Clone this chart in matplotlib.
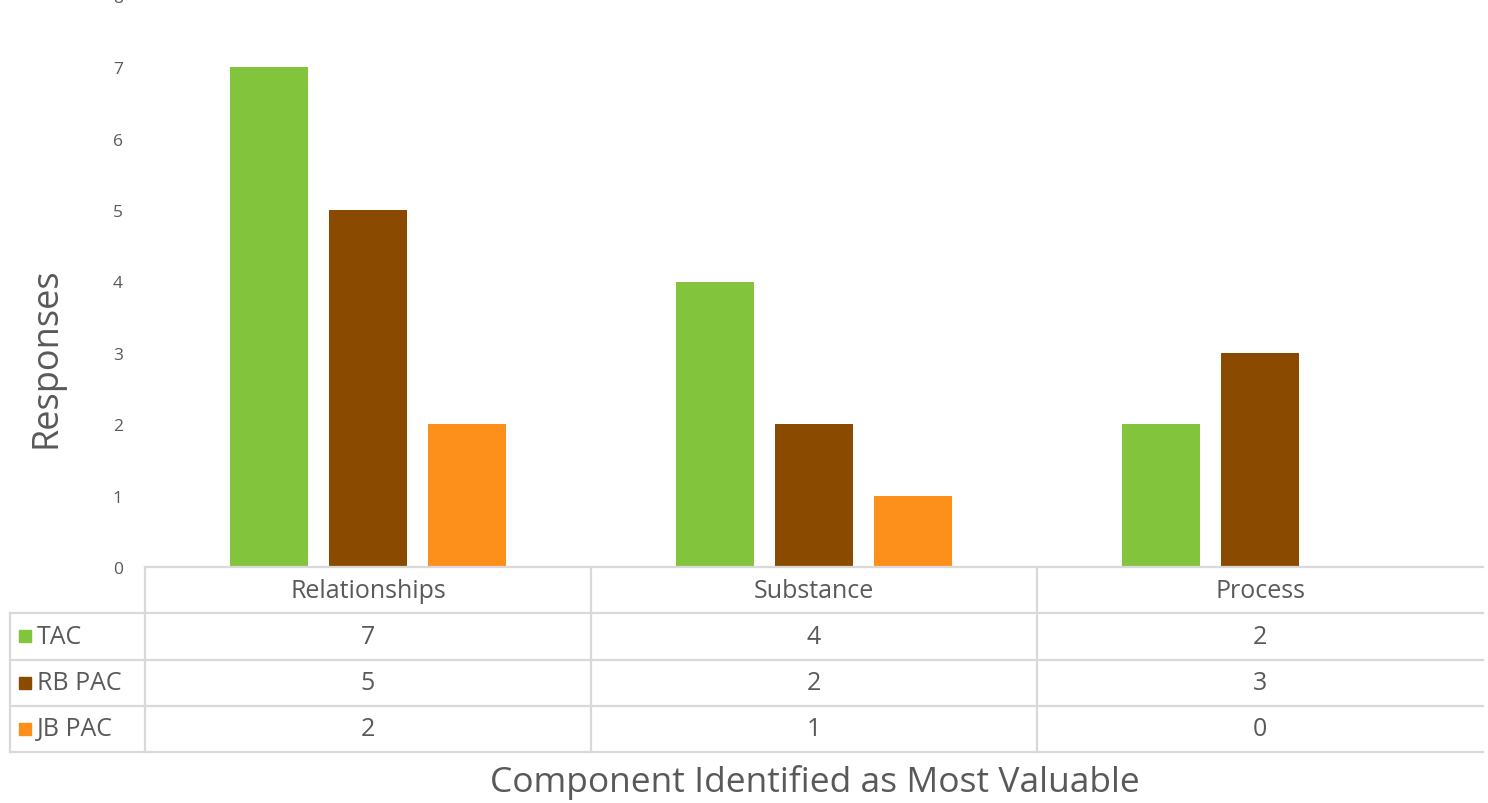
import matplotlib
matplotlib.use('Agg')
from matplotlib import pyplot as plt
from matplotlib.patches import Rectangle
import numpy as np

categories = ['Relationships', 'Substance', 'Process']
series_names = ['TAC', 'RB PAC', 'JB PAC']
tac = [7, 4, 2]
rb_pac = [5, 2, 3]
jb_pac = [2, 1, 0]
y_ticks = [0, 1, 2, 3, 4, 5, 6, 7, 8]

colors = ['#82c53d', '#8a4b00', '#fd8f1b']
text_color = '#595959'
grid_color = '#d9d9d9'

plt.rcParams['font.family'] = ['Open Sans', 'DejaVu Sans']

W, H = 1488, 804
fig = plt.figure(figsize=(W / 100, H / 100), dpi=100)


def px_box(left, top, right, bottom):
    return [left / W, 1 - bottom / H, (right - left) / W, (bottom - top) / H]


ax = fig.add_axes(px_box(145, -3, 1483, 568))
series = [tac, rb_pac, jb_pac]
x = np.arange(len(categories))
width = 0.175
step = 0.222
for i, (vals, col) in enumerate(zip(series, colors)):
    ax.bar(x + (i - 1) * step, vals, width, color=col, zorder=2)

ax.set_xlim(-0.5, 2.5)
ax.set_ylim(0, 8)
ax.set_yticks(y_ticks)
ax.set_xticks([])
for s in ax.spines.values():
    s.set_visible(False)
ax.tick_params(axis='y', length=0, pad=16, labelsize=12.5, labelcolor=text_color)

fig.text(46 / W, 1 - 358 / H, 'Responses', rotation=90, ha='center',
         va='center', fontsize=26, color=text_color)

# data table below the bars
tab = fig.add_axes(px_box(145, 568, 1483, 753))
tab.set_xlim(-0.5, 2.5)
tab.set_ylim(4, 0)
tab.axis('off')
lw = 1.6
px = 1 / 446.0  # one pixel in x data units
left_edge = -0.5 - 135 * px
kw = dict(color=grid_color, lw=lw, clip_on=False)
tab.plot([-0.5, 2.5], [0, 0], **kw)
for r in range(1, 5):
    tab.plot([left_edge, 2.5], [r, r], **kw)
tab.plot([left_edge, left_edge], [1, 4], **kw)
for c in range(3):
    tab.plot([c - 0.5, c - 0.5], [0, 4], **kw)

fs = 18
row_px = 185 / 4.0
sq = 12
for c, name in enumerate(categories):
    tab.text(c, 0.5, name, ha='center', va='center', fontsize=fs, color=text_color)
for r, (name, vals, col) in enumerate(zip(series_names, series, colors), start=1):
    tab.add_patch(Rectangle((left_edge + 9 * px, r + 0.5 - sq / 2 / row_px),
                            sq * px, sq / row_px, color=col, clip_on=False))
    tab.text(left_edge + 27 * px, r + 0.5, name, ha='left', va='center',
             fontsize=fs, color=text_color, clip_on=False)
    for c, v in enumerate(vals):
        tab.text(c, r + 0.5, str(v), ha='center', va='center', fontsize=fs,
                 color=text_color)

fig.text(815 / W, 1 - 783 / H, 'Component Identified as Most Valuable',
         ha='center', va='center', fontsize=25.5, color=text_color)

fig.savefig('out.png', dpi=100, facecolor='white')
